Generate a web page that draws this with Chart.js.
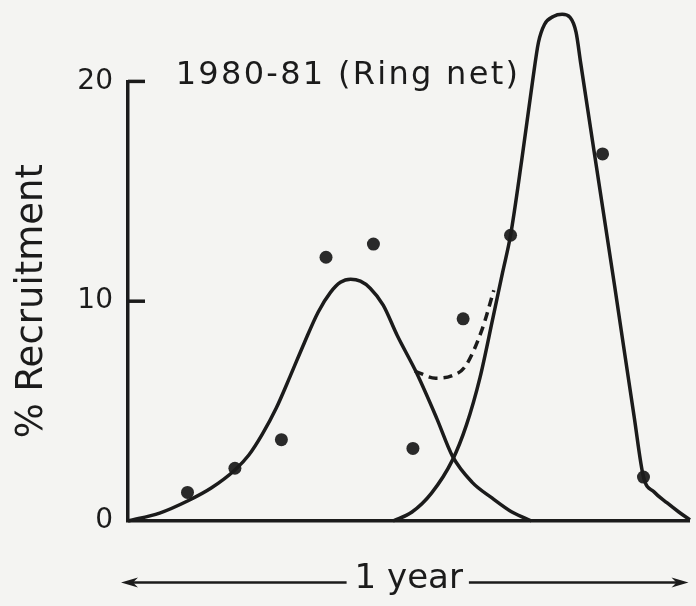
<!DOCTYPE html>
<html>
<head>
<meta charset="utf-8">
<script src="https://cdn.jsdelivr.net/npm/chart.js@4.4.1/dist/chart.umd.min.js"></script>
<style>
  html, body { margin: 0; padding: 0; background: #f4f4f2; }
  #wrap { width: 696px; height: 606px; }
</style>
</head>
<body>
<div id="wrap"><canvas id="graph" width="696" height="606"></canvas></div>
<script>
// -------------------------
// DATA (x = months along the 1 year axis, y = % recruitment)
// -------------------------
const sampleMonths  = [1.28, 2.30, 3.30, 4.26, 5.28, 6.13, 7.21, 8.23, 9.30, 10.21, 11.09];
const sampleRecruit = [1.3, 2.4, 3.7, 12.0, 12.6, 3.3, 9.2, 13.0, 22.45, 16.7, 2.0];

// first (broad) pulse
const pulse1X = [0, 0.68, 1.28, 1.79, 2.30, 2.60, 2.89, 3.19, 3.49, 3.79, 4.09, 4.36, 4.57, 4.79, 5.00, 5.21, 5.49, 5.79, 6.21, 6.64, 6.98, 7.40, 7.83, 8.26, 8.68];
const pulse1Y = [0, 0.36, 0.91, 1.5, 2.32, 3.0, 3.95, 5.14, 6.59, 8.09, 9.5, 10.41, 10.86, 11.0, 10.91, 10.59, 9.82, 8.45, 6.73, 4.68, 2.95, 1.77, 1.05, 0.41, 0];

// second (narrow) pulse
const pulse2X = [5.70, 6.11, 6.53, 6.98, 7.28, 7.57, 7.85, 8.06, 8.23, 8.47, 8.70, 8.83, 8.96, 9.15, 9.34, 9.51, 9.64, 9.74, 10.04, 10.47, 10.89, 11.09, 11.32, 11.60, 11.85, 12.09];
const pulse2Y = [0, 0.41, 1.27, 2.77, 4.36, 6.5, 9.23, 11.32, 13.0, 16.41, 19.95, 21.77, 22.59, 22.95, 23.05, 22.91, 22.23, 20.82, 16.64, 10.68, 4.73, 2.0, 1.32, 0.82, 0.41, 0.05];

// dashed sum of the two pulses in the overlap
const sumX = [6.17, 6.62, 6.96, 7.26, 7.62, 7.87];
const sumY = [6.82, 6.5, 6.6, 7.05, 8.73, 10.5];

const yTicks = [0, 10, 20];
const titleText = "1980-81 (Ring net)";
const yTitle = "% Recruitment";
const xTitle = "1 year";

const INK = "#1b1b1b";
const FONT = "'DejaVu Sans', sans-serif";

function pairs(xs, ys) {
  return xs.map((x, i) => ({ x: x, y: ys[i] }));
}

// -------------------------
// PLUGIN: inner ticks, arrows, title spacing
// -------------------------
const figureBits = {
  id: "figureBits",
  beforeDraw(chart) {
    // heading is drawn first, with wide lettering
    chart.ctx.letterSpacing = "2.3px";
  },
  afterDatasetsDraw(chart) {
    // axis layers (z: 1) come after the datasets, plain lettering
    chart.ctx.letterSpacing = "0px";
  },
  afterDraw(chart) {
    const ctx = chart.ctx;
    const area = chart.chartArea;
    const ys = chart.scales.y;
    const xs = chart.scales.x;

    ctx.save();
    ctx.letterSpacing = "0px";
    ctx.strokeStyle = INK;
    ctx.fillStyle = INK;
    ctx.lineWidth = 3.5;

    // ticks pointing into the plot
    yTicks.forEach(v => {
      if (v === 0) return;
      const py = ys.getPixelForValue(v);
      ctx.beginPath();
      ctx.moveTo(area.left, py);
      ctx.lineTo(area.left + 17, py);
      ctx.stroke();
    });

    // arrows either side of "1 year"
    const t = xs.options.title;
    const lh = t.font.size * 1.2;
    const midY = xs.bottom - (lh / 2 + t.padding.bottom) + 3;
    ctx.font = t.font.size + "px " + FONT;
    const w = ctx.measureText(xTitle).width;
    const cx = (xs.left + xs.right) / 2;
    const l0 = area.left - 7, l1 = cx - w / 2 - 8;
    const r0 = cx + w / 2 + 6, r1 = area.right - 1;

    ctx.lineWidth = 2.5;
    ctx.beginPath();
    ctx.moveTo(l0 + 8, midY); ctx.lineTo(l1, midY);
    ctx.moveTo(r0, midY); ctx.lineTo(r1 - 8, midY);
    ctx.stroke();

    ctx.beginPath();
    ctx.moveTo(l0, midY); ctx.lineTo(l0 + 17, midY - 5); ctx.lineTo(l0 + 12, midY); ctx.lineTo(l0 + 17, midY + 5);
    ctx.closePath(); ctx.fill();
    ctx.beginPath();
    ctx.moveTo(r1, midY); ctx.lineTo(r1 - 17, midY - 5); ctx.lineTo(r1 - 12, midY); ctx.lineTo(r1 - 17, midY + 5);
    ctx.closePath(); ctx.fill();
    ctx.restore();
  }
};

// -------------------------
// CHART
// -------------------------
const ctx = document.getElementById("graph").getContext("2d");

const curve = (label, xs, ys, extra) => Object.assign({
  label: label,
  data: pairs(xs, ys),
  borderColor: INK,
  borderWidth: 3.5,
  pointRadius: 0,
  cubicInterpolationMode: "monotone",
  clip: false
}, extra || {});

new Chart(ctx, {
  type: "line",
  data: {
    datasets: [
      curve("pulse 1", pulse1X, pulse1Y),
      curve("pulse 2", pulse2X, pulse2Y),
      curve("sum", sumX, sumY, { borderDash: [9, 6] }),
      {
        label: "observed",
        data: pairs(sampleMonths, sampleRecruit),
        showLine: false,
        pointRadius: 6.5,
        pointBackgroundColor: "#2a2a2a",
        pointBorderWidth: 0,
        clip: false
      }
    ]
  },
  options: {
    responsive: false,
    animation: false,
    layout: { padding: 0 },
    plugins: {
      legend: { display: false },
      tooltip: { enabled: false },
      title: {
        display: true,
        text: titleText,
        color: INK,
        font: { family: FONT, size: 32, weight: "normal" },
        padding: { top: 56, bottom: -13 }
      }
    },
    scales: {
      x: {
        type: "linear",
        min: 0,
        max: 12.08,
        grid: { display: false, drawTicks: false, z: 1 },
        border: { display: true, color: INK, width: 3.5, z: 1 },
        ticks: { display: false, z: 1 },
        title: {
          display: true,
          text: xTitle,
          color: INK,
          font: { family: FONT, size: 34 },
          padding: { top: 0, bottom: 6 }
        },
        afterFit: s => { s.height = 85; }
      },
      y: {
        min: 0,
        max: 20,
        grid: { display: false, drawTicks: false, z: 1 },
        border: { display: true, color: INK, width: 3.5, z: 1 },
        afterBuildTicks: s => { s.ticks = yTicks.map(v => ({ value: v })); },
        ticks: {
          z: 1,
          color: INK,
          padding: 15,
          font: { family: FONT, size: 28 }
        },
        title: {
          display: true,
          text: yTitle,
          color: INK,
          font: { family: FONT, size: 37 },
          padding: { top: 10 }
        },
        afterFit: s => { s.width = 128; }
      }
    }
  },
  plugins: [figureBits]
});
</script>
</body>
</html>
